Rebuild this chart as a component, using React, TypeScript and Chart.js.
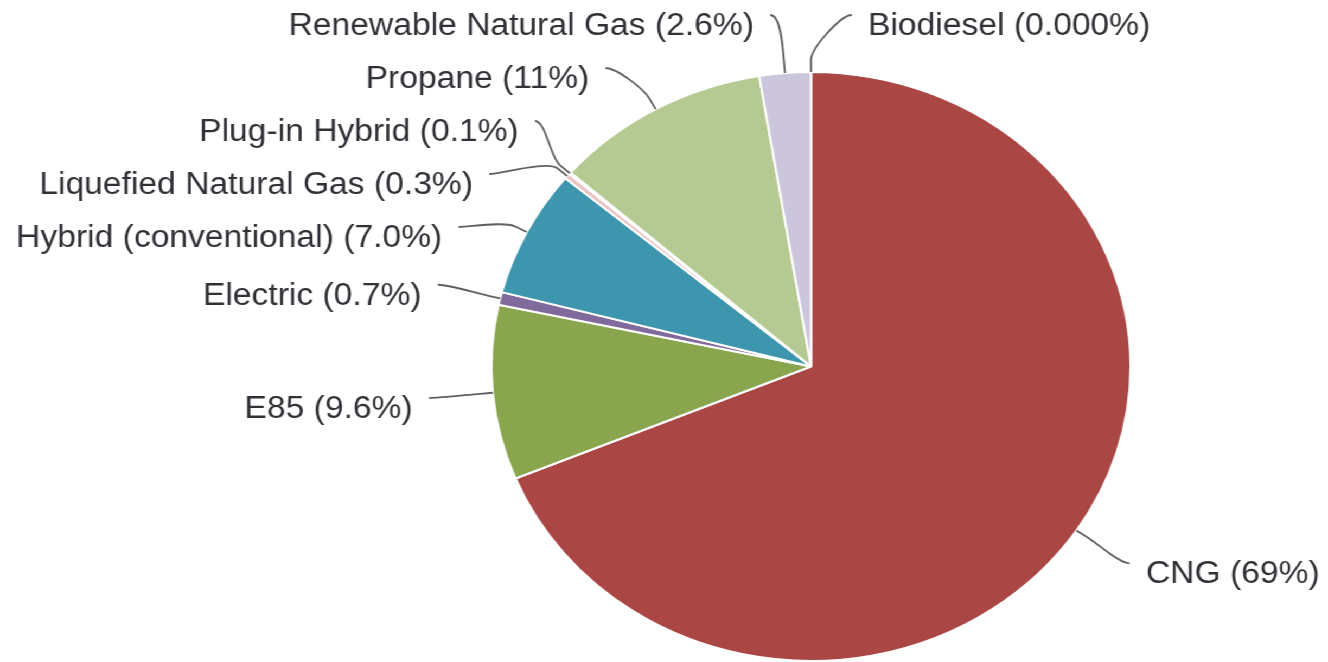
import { useEffect, useRef } from 'react';
import { Chart, registerables } from 'chart.js';

Chart.register(...registerables);

// ---- data ----
const categories = [
  'Biodiesel',
  'CNG',
  'E85',
  'Electric',
  'Hybrid (conventional)',
  'Liquefied Natural Gas',
  'Plug-in Hybrid',
  'Propane',
  'Renewable Natural Gas',
];
const shares = [0, 69, 9.6, 0.7, 7.0, 0.3, 0.1, 11, 2.6];
const shareLabels = ['0.000%', '69%', '9.6%', '0.7%', '7.0%', '0.3%', '0.1%', '11%', '2.6%'];
const sliceColors = [
  '#4572A7',
  '#AA4643',
  '#89A54E',
  '#80699B',
  '#3D96AE',
  '#E9C3C2',
  '#C9CFDC',
  '#B5CA92',
  '#CCC6DC',
];

// ---- layout constants ----
const CANVAS_W = 1224;
const CANVAS_H = 662;
const STRETCH_X = 1328 / CANVAS_W;
const PIE_SIZE = 591;
const PIE_LEFT = 452;
const PIE_TOP = 71;
const LABEL_DIST = 59;
const LABEL_SPACING = 53;
const LABEL_TOP = 15;
const TEXT_GAP = 15;
const BREAK_OFFSET = 12;

type Item = {
  i: number;
  left: boolean;
  target: number;
  pos: number;
  bx: number;
  by: number;
  p2x: number;
  p2y: number;
};

function distribute(items: Item[], spacing: number, minY: number, maxY: number) {
  const groups: Item[][] = items.map((it) => [it]);
  const startOf = (g: Item[]) => {
    let s = 0;
    g.forEach((it, j) => (s += it.target - j * spacing));
    let start = s / g.length;
    const maxStart = maxY - (g.length - 1) * spacing;
    if (start > maxStart) start = maxStart;
    if (start < minY) start = minY;
    return start;
  };
  let changed = true;
  while (changed) {
    changed = false;
    for (let k = 0; k < groups.length - 1; k++) {
      const a = groups[k];
      const b = groups[k + 1];
      if (startOf(a) + a.length * spacing > startOf(b)) {
        groups.splice(k, 2, a.concat(b));
        changed = true;
        break;
      }
    }
  }
  groups.forEach((g) => {
    const s = startOf(g);
    g.forEach((it, j) => (it.pos = s + j * spacing));
  });
}

const outsideLabels = {
  id: 'outsideLabels',
  afterDatasetsDraw(chart: any) {
    const ctx: CanvasRenderingContext2D = chart.ctx;
    const meta = chart.getDatasetMeta(0);
    const arcs = meta.data as any[];
    if (!arcs.length) return;
    const cx = arcs[0].x;
    const cy = arcs[0].y;
    const r = arcs[0].outerRadius;
    const R = r + LABEL_DIST;
    const items: Item[] = arcs.map((arc, i) => {
      const mid = (arc.startAngle + arc.endAngle) / 2;
      const c = Math.cos(mid);
      const s = Math.sin(mid);
      return {
        i,
        left: c < -1e-9,
        target: cy + s * R,
        pos: 0,
        bx: cx + c * r,
        by: cy + s * r,
        p2x: cx + c * (r + BREAK_OFFSET),
        p2y: cy + s * (r + BREAK_OFFSET),
      };
    });
    [true, false].forEach((side) => {
      const list = items.filter((it) => it.left === side).sort((a, b) => a.target - b.target);
      distribute(list, LABEL_SPACING, LABEL_TOP, chart.height - 30);
    });

    ctx.save();
    ctx.font = '31px "Liberation Sans", Arial, sans-serif';
    ctx.textBaseline = 'alphabetic';
    items.forEach((it) => {
      const dy = it.pos - cy;
      const dx = Math.sqrt(Math.max(R * R - dy * dy, 0));
      const dir = it.left ? -1 : 1;
      const lx = cx + dir * dx;
      const ly = it.pos;
      // connector
      ctx.beginPath();
      ctx.strokeStyle = '#5f5f5f';
      ctx.lineWidth = 1.8;
      ctx.moveTo(lx, ly);
      ctx.bezierCurveTo(
        lx - dir * 10,
        ly,
        2 * it.p2x - it.bx,
        2 * it.p2y - it.by,
        it.p2x,
        it.p2y
      );
      ctx.lineTo(it.bx, it.by);
      ctx.stroke();
      // text
      ctx.fillStyle = '#303036';
      ctx.textAlign = it.left ? 'right' : 'left';
      ctx.fillText(`${categories[it.i]} (${shareLabels[it.i]})`, lx + dir * TEXT_GAP, ly + 20);
    });
    ctx.restore();
  },
};

export default function App() {
  const canvasRef = useRef<HTMLCanvasElement | null>(null);

  useEffect(() => {
    if (!canvasRef.current) return;
    const chart = new Chart(canvasRef.current, {
      type: 'pie',
      data: {
        labels: categories,
        datasets: [
          {
            data: shares,
            backgroundColor: sliceColors,
            borderColor: '#ffffff',
            borderWidth: 2,
          },
        ],
      },
      options: {
        animation: false,
        responsive: true,
        maintainAspectRatio: false,
        events: [],
        layout: {
          padding: {
            top: PIE_TOP,
            bottom: CANVAS_H - PIE_TOP - PIE_SIZE,
            left: PIE_LEFT,
            right: CANVAS_W - PIE_LEFT - PIE_SIZE,
          },
        },
        plugins: {
          legend: { display: false },
          tooltip: { enabled: false },
        },
      },
      plugins: [outsideLabels],
    });
    return () => chart.destroy();
  }, []);

  return (
    <div
      style={{
        position: 'fixed',
        left: 0,
        top: 0,
        width: CANVAS_W,
        height: CANVAS_H,
        transform: `scaleX(${STRETCH_X})`,
        transformOrigin: '0 0',
        background: '#ffffff',
      }}
    >
      <canvas ref={canvasRef} />
    </div>
  );
}
